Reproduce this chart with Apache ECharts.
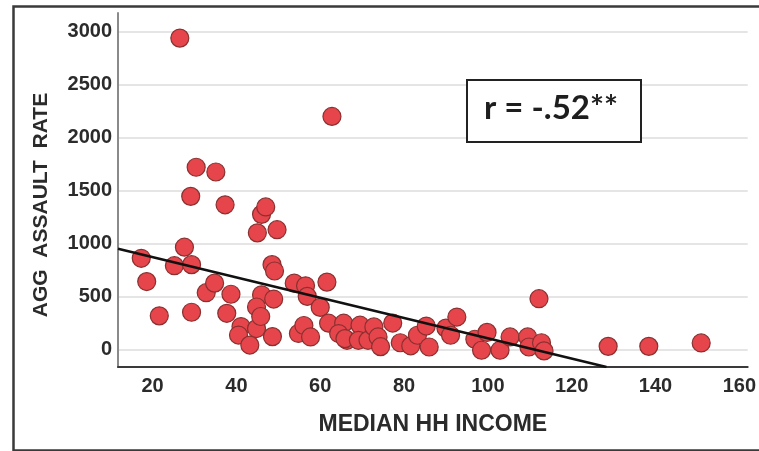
<!DOCTYPE html>
<html><head><meta charset="utf-8">
<script src="https://cdn.jsdelivr.net/npm/echarts@6/dist/echarts.min.js"></script>
<style>html,body{margin:0;padding:0;background:#fff}#c{width:759px;height:451px}</style>
</head><body><div id="c"></div>
<script>
// Data
const incomeValues = [17.3,18.6,21.6,26.5,25.2,27.6,29.3,29.3,30.4,29.1,32.8,34.8,35.1,37.3,38.7,37.7,41.1,40.5,43.2,44.8,45.0,46.0,47.0,49.7,46.0,44.8,45.8,48.9,48.5,49.1,48.6,53.8,56.5,56.9,54.8,56.1,57.7,60.0,61.6,62.8,62.0,65.6,64.4,66.4,65.9,69.5,69.1,71.4,72.8,73.8,74.4,77.3,79.1,81.6,83.2,85.3,86.0,90.0,91.1,92.6,96.9,99.8,98.5,102.9,105.3,109.5,109.8,112.2,112.8,113.4,128.7,138.4,150.9];
const assaultValues = [860,640,316,2940,790,965,800,350,1720,1445,535,625,1675,1365,520,340,215,135,40,196,1100,1275,1345,1130,515,400,310,475,800,740,120,625,600,500,150,225,117,396,635,2200,247,247,149,85,101,228,85,85,212,117,25,248,62,33,133,220,22,200,133,305,95,160,-9,-9,117,117,22,478,62,-15,28,28,60];
const fitX = [11.75, 128.3];
const fitY = [950, -167];
const xTicks = [20,40,60,80,100,120,140,160];
const yTicks = [0,500,1000,1500,2000,2500,3000];
const corrLabel = 'r = -.52**';
const xName = 'MEDIAN HH INCOME';
const yName = 'AGG  ASSAULT  RATE';

const points = incomeValues.map((x, i) => [x, assaultValues[i]]);
const fitLine = fitX.map((x, i) => [x, fitY[i]]);

const chart = echarts.init(document.getElementById('c'), null, {renderer: 'canvas'});
const FONT = 'Liberation Sans, Arial, sans-serif';
const labelFont = {fontFamily: FONT, fontWeight: 'bold', fontSize: 20, color: '#2b2b2b'};
chart.setOption({
  animation: false,
  backgroundColor: '#fff',
  grid: {left: 118, right: 4, top: 13, bottom: 84},
  xAxis: {
    type: 'value', min: 11.75, max: 162,
    axisLine: {show: true, onZero: false, lineStyle: {color: '#3a3a3a', width: 2}},
    axisTick: {show: false, customValues: xTicks},
    axisLabel: Object.assign({customValues: xTicks, margin: 9, formatter: v => String(v)}, labelFont),
    splitLine: {show: false},
    name: xName, nameLocation: 'middle', nameGap: 46,
    nameTextStyle: {fontFamily: FONT, fontWeight: 'bold', fontSize: 23, color: '#2b2b2b'}
  },
  yAxis: {
    type: 'value', min: -167, max: 3177,
    axisLine: {show: true, onZero: false, lineStyle: {color: '#8a8a8a', width: 2}},
    axisTick: {show: false, customValues: yTicks},
    axisLabel: Object.assign({customValues: yTicks, margin: 6, formatter: v => String(v)}, labelFont),
    splitLine: {show: true, lineStyle: {color: '#dcdcdc', width: 1.5}}
  },
  series: [
    {
      type: 'scatter', data: points, symbolSize: 18, z: 2,
      itemStyle: {color: '#e5454b', borderColor: '#8a3030', borderWidth: 1.2, opacity: 1}
    },
    {
      type: 'line', data: fitLine, showSymbol: false, z: 3,
      lineStyle: {color: '#111', width: 2.5}
    }
  ],
  graphic: [
    {type: 'rect', left: 11, top: 4, shape: {x: 0, y: 0, width: 760, height: 444},
     style: {fill: 'none', stroke: '#3a3a3a', lineWidth: 2.5}, z: 100},
    {type: 'text', x: 41, y: 205, rotation: Math.PI / 2, z: 100,
     style: {text: yName, font: 'bold 21px ' + FONT, fill: '#2b2b2b', align: 'center', verticalAlign: 'middle'}},
    {type: 'rect', left: 466, top: 79, shape: {x: 0, y: 0, width: 174, height: 62},
     style: {fill: '#fff', stroke: '#222', lineWidth: 2}, z: 100},
    {type: 'text', left: 484, top: 92, z: 101,
     style: {text: corrLabel, font: 'bold 33px Lato, "Liberation Sans", sans-serif', fill: '#1e1e1e'}}
  ]
});
</script></body></html>
